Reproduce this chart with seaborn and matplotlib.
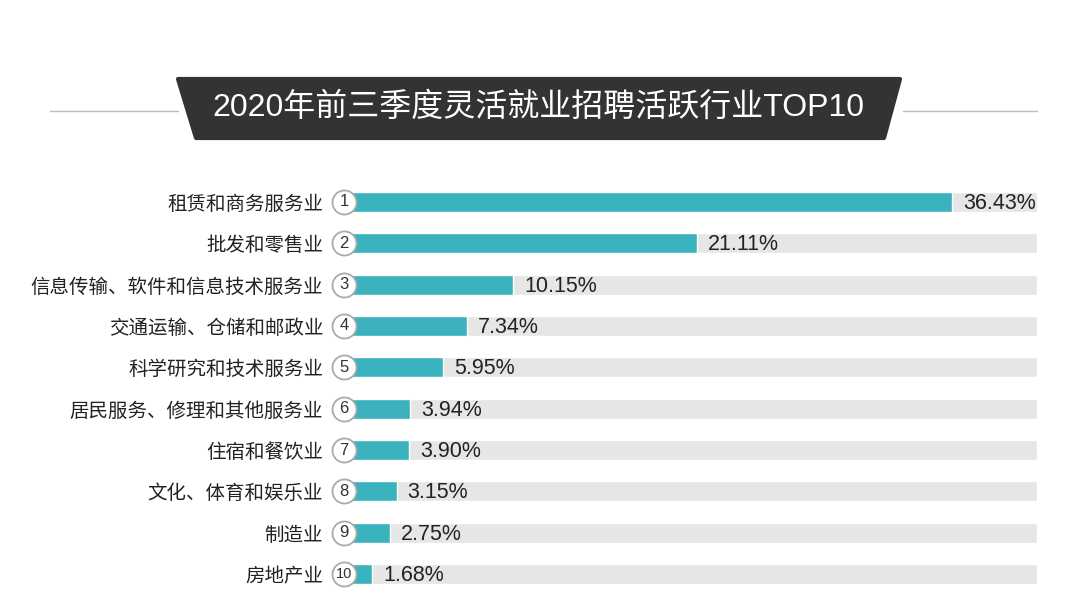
"""2020年前三季度灵活就业招聘活跃行业TOP10 - horizontal bar chart."""

import matplotlib
matplotlib.use("Agg")
import matplotlib.pyplot as plt
from matplotlib.patches import Polygon
from matplotlib.lines import Line2D
import pandas as pd
import seaborn as sns

industries = [
    '租赁和商务服务业', '批发和零售业', '信息传输、软件和信息技术服务业',
    '交通运输、仓储和邮政业', '科学研究和技术服务业', '居民服务、修理和其他服务业',
    '住宿和餐饮业', '文化、体育和娱乐业', '制造业', '房地产业',
]
shares = [36.43, 21.11, 10.15, 7.34, 5.95, 3.94, 3.90, 3.15, 2.75, 1.68]
ranks = list(range(1, 11))
title = '2020年前三季度灵活就业招聘活跃行业TOP10'

TEAL = '#3bb3bf'
TRACK = '#e6e6e6'
XMAX = 41.5
LATIN = ['Liberation Sans', 'Noto Sans CJK SC', 'DejaVu Sans']

sns.set_theme(style='white')
plt.rcParams['font.family'] = ['Noto Sans CJK SC', 'DejaVu Sans']

df = pd.DataFrame({'industry': industries, 'share': shares, 'track': XMAX})

W, H = 1080, 615
fig = plt.figure(figsize=(W / 100, H / 100), dpi=100)
fig.patch.set_facecolor('white')


def fx(px):
    return px / W


def fy(py):
    return 1 - py / H


# chart axes: origin at x=344px, tracks end at 1037px
ax = fig.add_axes([fx(344), fy(594.7), fx(1037) - fx(344), fy(181.3) - fy(594.7)])

sns.barplot(data=df, x='track', y='industry', color=TRACK, width=0.48,
            ax=ax, saturation=1, orient='h')
sns.barplot(data=df, x='share', y='industry', color=TEAL, width=0.48,
            ax=ax, saturation=1, orient='h')

ax.set_xlim(0, XMAX)
ax.set_ylim(9.5, -0.5)
ax.set_xlabel('')
ax.set_ylabel('')
ax.set_xticks([])
ax.tick_params(axis='y', length=0, pad=15, labelsize=14, labelcolor='#222222')
for s in ax.spines.values():
    s.set_visible(False)

# rank badges
ax.scatter([0] * len(ranks), range(len(ranks)), s=300, color='white',
           edgecolor='#aaaaaa', linewidth=1.3, zorder=5, clip_on=False)
for i, r in enumerate(ranks):
    ax.text(0, i, str(r), ha='center', va='center', fontsize=12 if r < 10 else 10.5,
            color='#333333', zorder=6, family=LATIN)

# value labels
for i, v in enumerate(shares):
    ax.annotate(f'{v:.2f}%', xy=(v, i), xytext=(8, -1), textcoords='offset points',
                ha='left', va='center', fontsize=15.5, color='#222222',
                family=LATIN)

# title banner
banner = [(178, 79), (900, 79), (884, 138), (196, 138)]
fig.patches.append(Polygon([(fx(x), fy(y)) for x, y in banner], closed=True,
                           transform=fig.transFigure, facecolor='#333333',
                           edgecolor='#333333', linewidth=3, joinstyle='round'))
fig.lines.append(Line2D([fx(50), fx(178)], [fy(111), fy(111)],
                        transform=fig.transFigure, color='#bbbbbb', linewidth=1))
fig.lines.append(Line2D([fx(903), fx(1037)], [fy(111), fy(111)],
                        transform=fig.transFigure, color='#bbbbbb', linewidth=1))
fig.text(fx(538), fy(108), title, ha='center', va='center', fontsize=23,
         color='white', family=LATIN)

fig.savefig('out.png', dpi=100)
